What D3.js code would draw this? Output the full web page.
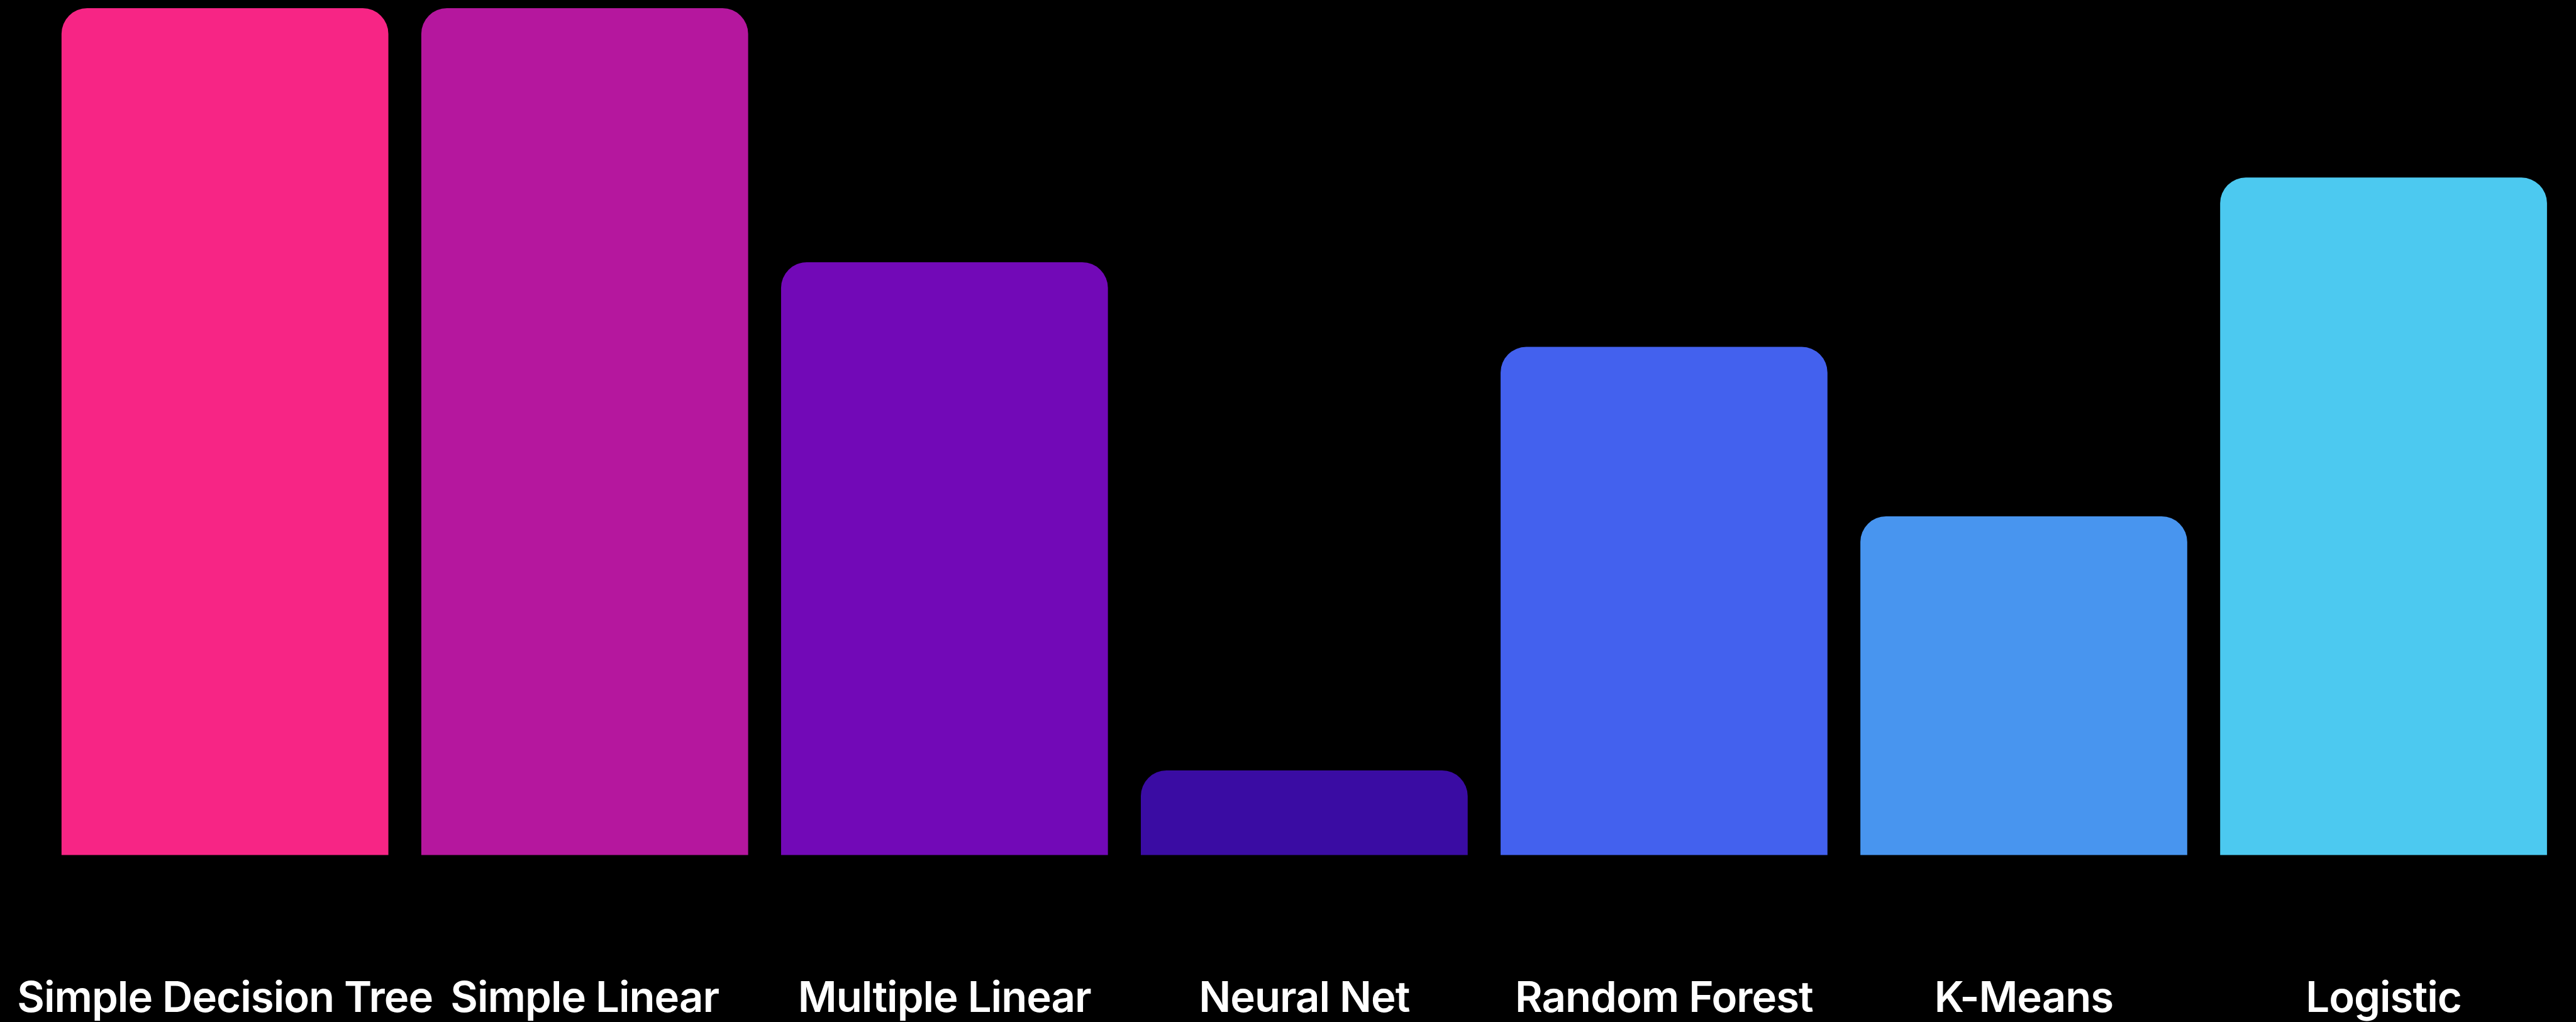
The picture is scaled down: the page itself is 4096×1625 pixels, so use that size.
<!DOCTYPE html>
<html>
<head>
<meta charset="utf-8">
<script src="https://cdn.jsdelivr.net/npm/d3@7"></script>
<style>
  html, body { margin: 0; padding: 0; background: #000; }
  svg { display: block; }
</style>
</head>
<body>
<script>
// Model scores per algorithm
const models = ["Simple Decision Tree", "Simple Linear", "Multiple Linear", "Neural Net", "Random Forest", "K-Means", "Logistic"];
const scores = [100, 100, 70, 10, 60, 40, 80];
const barColors = ["#F72585", "#B5179E", "#7209B7", "#3A0CA3", "#4361EE", "#4895EF", "#4CC9F0"];

const W = 4096, H = 1625;
const k = 0.907;

const svg = d3.select("body").append("svg")
  .attr("width", W).attr("height", H)
  .style("background", "#000");

const pad = 0.0915;
const x = d3.scaleBand()
  .domain(models)
  .range([79 * k, 4494 * k])
  .paddingInner(pad)
  .paddingOuter(pad / 2);

const baseY = 1499 * k;
const y = d3.scaleLinear()
  .domain([0, 100])
  .range([baseY, 14.3 * k]);

const r = 45 * k;

// Bar with rounded top corners and a square base
function topRounded(x0, y0, w, h, rad) {
  const rr = Math.min(rad, w / 2, h);
  const p = d3.path();
  p.moveTo(x0, y0 + h);
  p.lineTo(x0, y0 + rr);
  p.arcTo(x0, y0, x0 + rr, y0, rr);
  p.lineTo(x0 + w - rr, y0);
  p.arcTo(x0 + w, y0, x0 + w, y0 + rr, rr);
  p.lineTo(x0 + w, y0 + h);
  p.closePath();
  return p.toString();
}

const data = models.map((m, i) => ({ model: m, score: scores[i], color: barColors[i] }));

svg.append("g").selectAll("path")
  .data(data)
  .join("path")
  .attr("d", d => topRounded(x(d.model), y(d.score), x.bandwidth(), baseY - y(d.score), r))
  .attr("fill", d => d.color);

// Category labels
const axis = d3.axisBottom(x).tickSize(0).tickPadding(0);
const ax = svg.append("g")
  .attr("transform", `translate(0,${1774 * k})`)
  .call(axis);
ax.select(".domain").remove();
ax.selectAll("text")
  .attr("dy", 0)
  .attr("y", 0)
  .attr("fill", "#fff")
  .style("font-family", "Inter, 'Noto Sans', sans-serif")
  .style("font-weight", 600)
  .style("letter-spacing", "-1px")
  .style("font-size", `${74 * k}px`);
</script>
</body>
</html>
